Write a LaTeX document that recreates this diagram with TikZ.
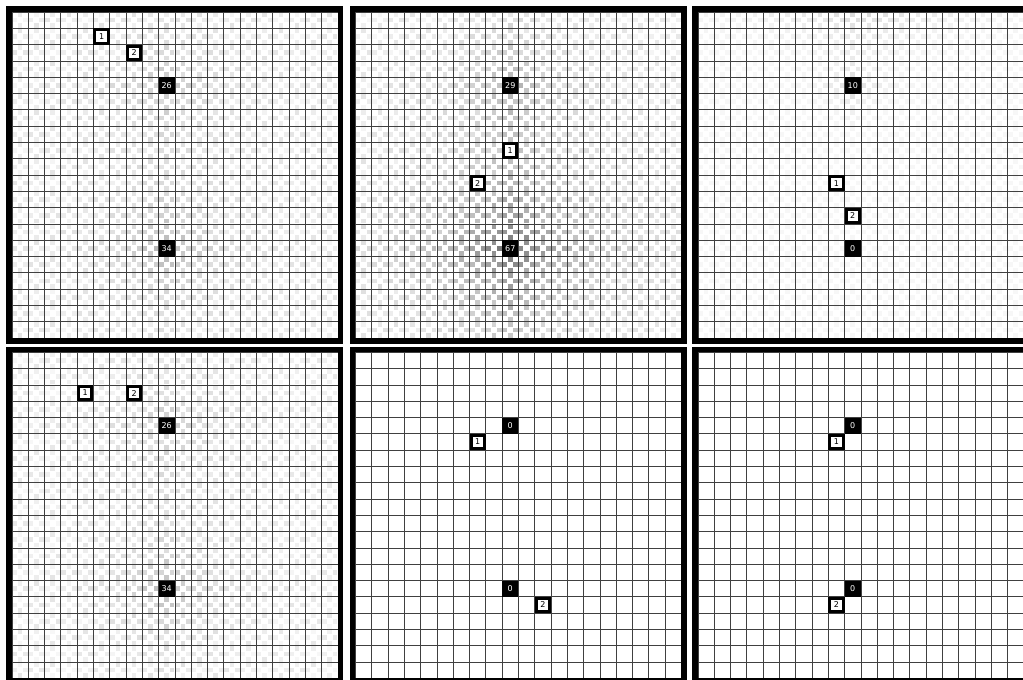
\documentclass[tikz,border=0pt]{standalone}
\usepackage{fontspec}
\setmainfont{DejaVu Sans}
\tikzset{
  gridline/.style={line width=0.8pt, draw=black!75},
  frame/.style={line width=5.5pt, draw=black},
  blk/.style={fill=black, text=white, minimum size=16.3pt, inner sep=0pt, font=\fontsize{8}{9}\selectfont},
  wht/.style={fill=white, draw=black, line width=3pt, text=black, minimum size=13.3pt, inner sep=0pt, font=\fontsize{8}{9}\selectfont},
  cellunits/.style={x=16.3pt, y=-16.3pt}
}
\newcommand\heatmap[1]{%
 \foreach \i in {0,...,19}{\foreach \j in {0,...,19}{\foreach \dx/\dy in {0/-1,1/0,0/1,-1/0}{%
   \pgfmathsetmacro\px{\i+0.5+\dx*0.33}\pgfmathsetmacro\py{\j+0.5+\dy*0.33}%
   \pgfmathtruncatemacro\v{min(70,#1)}%
   \ifnum\v>2 \fill[black!\v] (\px-0.14,\py-0.14) rectangle (\px+0.14,\py+0.14);\fi
 }}}}
\newcommand\cellgrid{%
  \foreach \k in {0,...,20}{\draw[gridline] (\k,0) -- (\k,20); \draw[gridline] (0,\k) -- (20,\k);}%
  \draw[frame] (-0.17,-0.17) rectangle (20.17,20.17);}
\begin{document}
\begin{tikzpicture}[x=1pt,y=-1pt]
\useasboundingbox (0,0) rectangle (1023,680);
\clip (0,0) rectangle (1023,680);
\fill[white] (0,0) rectangle (1023,680);
% ---------- panel 1 ----------
\begin{scope}[cellunits, shift={(11.9pt,-12pt)}]
  \heatmap{7 + 3*cos(90*(3*\i+5*\j+2*\dx+\dy)) + 22*exp(-(abs(\px-9.5)+abs(\py-14.5))/3) + 15*exp(-(abs(\px-9.5)+abs(\py-4.5))/3)}
  \cellgrid
  \node[wht] (p1one) at (5.5,1.5) {1};
  \node[wht] (p1two) at (7.5,2.5) {2};
  \node[blk] (p1top) at (9.5,4.5) {26};
  \node[blk] (p1bot) at (9.5,14.5) {34};
\end{scope}
% ---------- panel 2 ----------
\begin{scope}[cellunits, shift={(355.4pt,-12pt)}]
  \heatmap{6 + 3*cos(90*(3*\i+5*\j+2*\dx+\dy)) + 50*exp(-(abs(\px-9.5)+abs(\py-14.5))/4.5) + 20*exp(-(abs(\px-9.5)+abs(\py-4.5))/3)}
  \cellgrid
  \node[blk] (p2top) at (9.5,4.5) {29};
  \node[wht] (p2one) at (9.5,8.5) {1};
  \node[wht] (p2two) at (7.5,10.5) {2};
  \node[blk] (p2bot) at (9.5,14.5) {67};
\end{scope}
% ---------- panel 3 ----------
\begin{scope}[cellunits, shift={(697.9pt,-12pt)}]
  \heatmap{3 + 14*exp(-\py/1.6)*exp(-abs(\px-10)/5) + 14*exp(-(abs(\px-9.5)+abs(\py-4.5))/1.2)}
  \cellgrid
  \node[blk] (p3top) at (9.5,4.5) {10};
  \node[wht] (p3one) at (8.5,10.5) {1};
  \node[wht] (p3two) at (9.5,12.5) {2};
  \node[blk] (p3bot) at (9.5,14.5) {0};
\end{scope}
% ---------- panel 4 ----------
\begin{scope}[cellunits, shift={(11.9pt,-352.3pt)}]
  \heatmap{6 + 3*cos(90*(3*\i+5*\j+2*\dx+\dy)) + 20*exp(-(abs(\px-9.5)+abs(\py-14.5))/3) + 14*exp(-(abs(\px-9.5)+abs(\py-4.5))/3)}
  \cellgrid
  \node[wht] (p4one) at (4.5,2.5) {1};
  \node[wht] (p4two) at (7.5,2.5) {2};
  \node[blk] (p4top) at (9.5,4.5) {26};
  \node[blk] (p4bot) at (9.5,14.5) {34};
\end{scope}
% ---------- panel 5 ----------
\begin{scope}[cellunits, shift={(355.4pt,-352.3pt)}]
  \cellgrid
  \node[blk] (p5top) at (9.5,4.5) {0};
  \node[wht] (p5one) at (7.5,5.5) {1};
  \node[blk] (p5bot) at (9.5,14.5) {0};
  \node[wht] (p5two) at (11.5,15.5) {2};
\end{scope}
% ---------- panel 6 ----------
\begin{scope}[cellunits, shift={(697.9pt,-352.3pt)}]
  \cellgrid
  \node[blk] (p6top) at (9.5,4.5) {0};
  \node[wht] (p6one) at (8.5,5.5) {1};
  \node[blk] (p6bot) at (9.5,14.5) {0};
  \node[wht] (p6two) at (8.5,15.5) {2};
\end{scope}
\end{tikzpicture}
\end{document}
